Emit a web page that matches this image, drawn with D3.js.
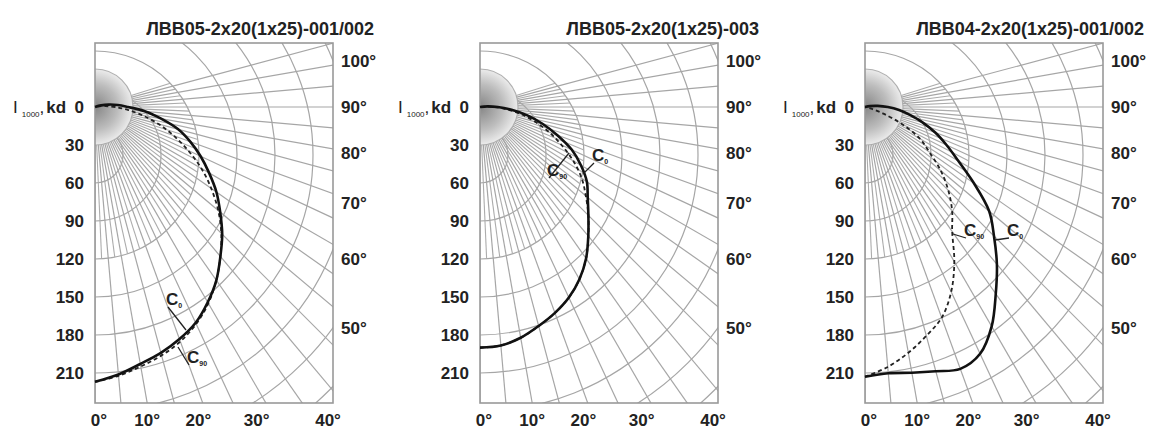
<!DOCTYPE html>
<html lang="ru">
<head>
<meta charset="UTF-8">
<title>КСС</title>
<script src="https://d3js.org/d3.v7.min.js"></script>
<style>
  body { margin: 0; background: #fff; }
  svg text { font-family: "Liberation Sans", Arial, sans-serif; fill: #222; }
</style>
</head>
<body>
<div id="chart"></div>
<script>
// данные: углы (градусы) и сила света I, кд на 1000 лм
const titles = ["ЛВВ05-2x20(1x25)-001/002", "ЛВВ05-2x20(1x25)-003", "ЛВВ04-2x20(1x25)-001/002"]
const angles = [0, 5, 10, 15, 20, 25, 30, 35, 40, 45, 50, 55, 60, 65, 70, 75, 80, 85, 90, 95, 100, 105, 110]
const c0_1  = [217, 212, 206, 201, 195, 188, 178, 167, 154, 142, 129, 117, 104, 92, 80, 68, 53, 40, 26, 18, 11, 5, 0]
const c90_1 = [217, 213, 208, 203, 197, 189, 179, 167, 154, 141, 127, 112, 97, 81, 66, 52, 38, 26, 16, 8, 3, 1, 0]
const c0_2  = [190, 189, 185, 179, 173, 166, 157, 146, 133, 121, 111, 103, 92, 80, 65, 51, 38, 25, 14, 6, 0, 0, 0]
const c90_2 = [190, 189, 185, 179, 173, 166, 157, 146, 133, 121, 109, 98, 85, 71, 58, 45, 33, 21, 11, 4, 0, 0, 0]
const c0_3  = [213, 211, 213, 216, 220, 215, 200, 180, 162, 144, 128, 105, 85, 71, 59, 47, 36, 27, 18, 10, 4, 0, 0]
const c90_3 = [213, 206, 197, 187, 177, 161, 141, 120, 107, 93, 78, 62, 50, 33, 16, 5, 0, 0, 0, 0, 0, 0, 0]
const intensityTicks = [0, 30, 60, 90, 120, 150, 180, 210]
const ringValues = [60, 90, 120, 150, 180, 210, 240, 270, 300, 330]
const bottomTicks = [0, 10, 20, 30, 40]
const rightTicks = [100, 90, 80, 70, 60, 50]

const panels = [
  {title: titles[0], c0: c0_1, c90: c90_1, lab: {c0: [170, 305, 186, 330], c90: [191, 363, 178, 347]}},
  {title: titles[1], c0: c0_2, c90: c90_2, lab: {c0: [596, 161, 583, 174], c90: [551, 176, 569, 153]}},
  {title: titles[2], c0: c0_3, c90: c90_3, lab: {c0: [1011, 236, 995, 240], c90: [968, 236, 953, 234]}}
]

const W = 1156, H = 432
const poleY = 107, boxTop = 43, boxBottom = 403, boxW = 238
const ringShift = 48   // центр дуг сетки ниже полюса
const xStarts = [95, 480, 865]
const toRad = d => d * Math.PI / 180

// масштаб радиуса: 30 кд = 38 px
const r = d3.scaleLinear().domain([0, 30]).range([0, 38])

// расстояние от полюса по лучу до дуги сетки радиуса R
function rayToRing(a, R) {
  const c = Math.cos(toRad(a))
  return ringShift * c + Math.sqrt(ringShift * ringShift * c * c - ringShift * ringShift + R * R)
}

const svg = d3.select('#chart').append('svg')
  .attr('width', W).attr('height', H)

const defs = svg.append('defs')
const grad = defs.append('radialGradient').attr('id', 'blob')
grad.append('stop').attr('offset', '0%').attr('stop-color', '#858585')
grad.append('stop').attr('offset', '60%').attr('stop-color', '#bdbdbd')
grad.append('stop').attr('offset', '100%').attr('stop-color', '#ececec')

panels.forEach((p, i) => {
  const x0 = xStarts[i]
  const g = svg.append('g')

  defs.append('clipPath').attr('id', 'clip' + i)
    .append('rect').attr('x', x0).attr('y', boxTop).attr('width', boxW).attr('height', boxBottom - boxTop)

  const grid = g.append('g').attr('clip-path', `url(#clip${i})`)

  // дуги сетки
  grid.selectAll('.ring').data(ringValues).enter().append('circle')
    .attr('cx', x0).attr('cy', poleY + ringShift).attr('r', d => r(d) - ringShift)
    .attr('fill', 'none').attr('stroke', '#a6a6a6').attr('stroke-width', 1.2)

  // частые лучи у полюса (до дуги 120)
  const fine = d3.range(2.5, 110, 5)
  const innerR = r(120) - ringShift
  grid.selectAll('.fine').data(fine).enter().append('line')
    .attr('x1', d => x0 + r(30) * Math.sin(toRad(d)))
    .attr('y1', d => poleY + r(30) * Math.cos(toRad(d)))
    .attr('x2', d => x0 + rayToRing(d, innerR) * Math.sin(toRad(d)))
    .attr('y2', d => poleY + rayToRing(d, innerR) * Math.cos(toRad(d)))
    .attr('stroke', '#acacac').attr('stroke-width', 1.1)

  // серое пятно у полюса
  grid.append('circle').attr('cx', x0).attr('cy', poleY).attr('r', r(30))
    .attr('fill', 'url(#blob)').attr('stroke', '#b0b0b0').attr('stroke-width', 1.2)

  // лучи через 5°
  const rays = d3.range(0, 110, 5)
  grid.selectAll('.ray').data(rays).enter().append('line')
    .attr('x1', d => x0 + r(30) * Math.sin(toRad(d)))
    .attr('y1', d => poleY + r(30) * Math.cos(toRad(d)))
    .attr('x2', d => x0 + 600 * Math.sin(toRad(d)))
    .attr('y2', d => poleY + 600 * Math.cos(toRad(d)))
    .attr('stroke', '#a6a6a6').attr('stroke-width', 1.2)

  // рамка
  g.append('rect').attr('x', x0).attr('y', boxTop).attr('width', boxW).attr('height', boxBottom - boxTop)
    .attr('fill', 'none').attr('stroke', '#999').attr('stroke-width', 1.6)

  // кривые
  const line = d3.lineRadial()
    .angle(d => Math.PI - toRad(d[0]))
    .radius(d => r(d[1]))
    .curve(d3.curveCatmullRom)
  const curves = g.append('g').attr('transform', `translate(${x0},${poleY})`)
  curves.append('path').datum(angles.map((a, k) => [a, p.c90[k]]))
    .attr('d', line).attr('fill', 'none').attr('stroke', '#222')
    .attr('stroke-width', 1.8).attr('stroke-dasharray', '4,3')
  curves.append('path').datum(angles.map((a, k) => [a, p.c0[k]]))
    .attr('d', line).attr('fill', 'none').attr('stroke', '#111').attr('stroke-width', 2.6)

  // подписи C0, C90
  ;[['c0', '0'], ['c90', '90']].forEach(([key, sub]) => {
    const l = p.lab[key]
    g.append('line').attr('x1', l[0] - 2).attr('y1', l[1] + 2).attr('x2', l[2]).attr('y2', l[3])
      .attr('stroke', '#222').attr('stroke-width', 1.3)
    const t = g.append('text').attr('x', l[0] - 4).attr('y', l[1])
      .attr('font-size', 17).attr('font-weight', 'bold').attr('text-anchor', 'start')
    t.append('tspan').text('C')
    t.append('tspan').attr('font-size', 7).attr('dy', 3).text(sub)
  })

  // шкала силы света слева
  const yScale = d3.scaleLinear().domain([0, 30]).range([poleY, poleY + 38])
  const ax = g.append('g').attr('transform', `translate(${x0 - 11},0)`)
    .call(d3.axisLeft(yScale).tickValues(intensityTicks).tickSize(0).tickPadding(0))
  ax.select('.domain').remove()
  ax.selectAll('text').attr('font-size', 17).attr('font-weight', 'bold')
    .style('font-family', '"Liberation Sans", Arial, sans-serif').attr('fill', '#222')

  const unit = g.append('text').attr('x', x0 - 82).attr('y', poleY + 6)
    .attr('font-size', 17)
  unit.append('tspan').text('I')
  unit.append('tspan').attr('font-size', 8).attr('dx', 4).attr('dy', 4).text('1000')
  unit.append('tspan').attr('dy', -4).text(',')
  unit.append('tspan').attr('font-weight', 'bold').attr('dx', 2).text('kd')

  // углы справа
  const labX = x0 + boxW + 25
  g.selectAll('.rt').data(rightTicks).enter().append('text')
    .attr('x', x0 + boxW + 8)
    .attr('y', d => poleY + (labX - x0) / Math.tan(toRad(d)) + 6)
    .attr('font-size', 17).attr('font-weight', 'bold')
    .text(d => d + '°')

  // углы снизу
  g.selectAll('.bt').data(bottomTicks).enter().append('text')
    .attr('x', d => x0 + (boxBottom - 23 - poleY) * Math.tan(toRad(d)) + 4)
    .attr('y', boxBottom + 23)
    .attr('text-anchor', 'middle').attr('font-size', 17).attr('font-weight', 'bold')
    .text(d => d + '°')

  // заголовок
  g.append('text').attr('x', x0 + boxW + 41).attr('y', 35)
    .attr('text-anchor', 'end').attr('font-size', 18).attr('font-weight', 'bold')
    .text(p.title)
})
</script>
</body>
</html>
